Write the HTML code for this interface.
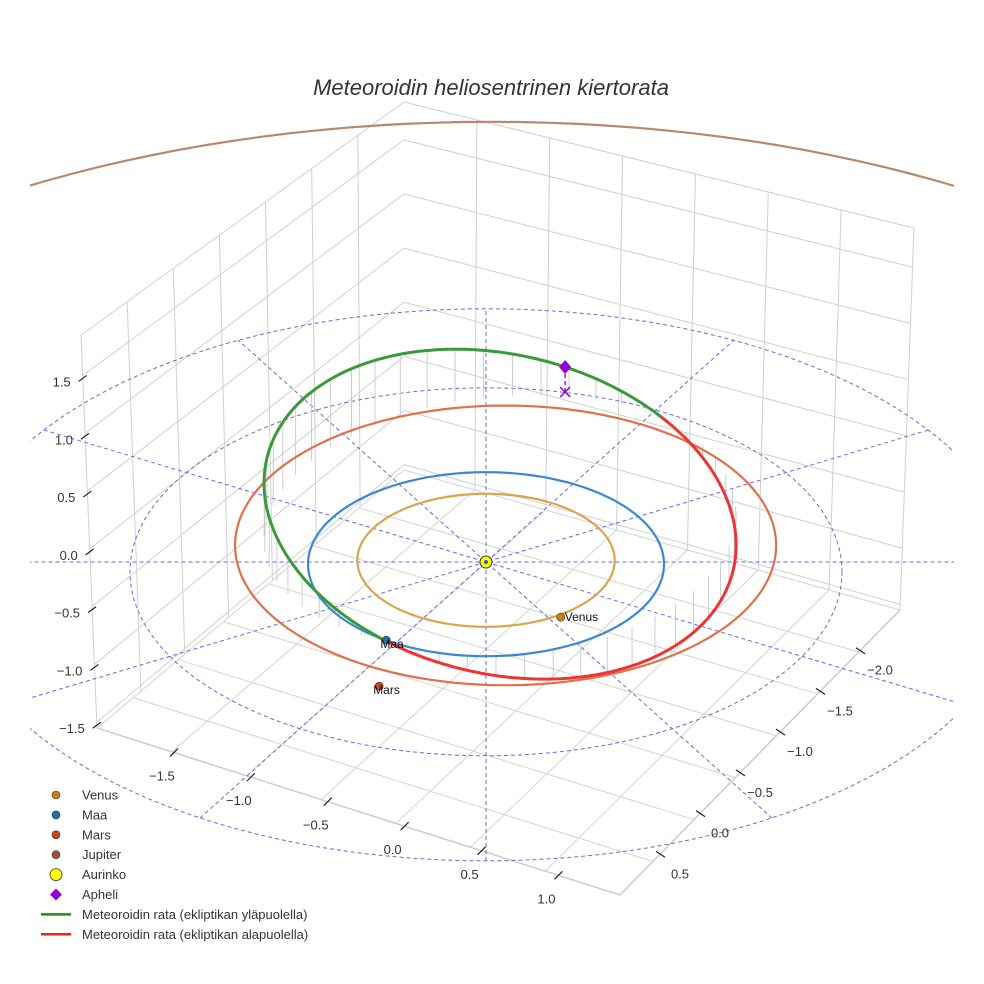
<!DOCTYPE html>
<html><head><meta charset="utf-8"><style>
html,body{margin:0;padding:0;background:#fff;width:984px;height:984px;overflow:hidden;}
svg{display:block;font-family:"Liberation Sans",sans-serif;}
</style></head><body>
<svg id="c" width="984" height="984" viewBox="0 0 984 984" xmlns="http://www.w3.org/2000/svg">
<defs><clipPath id="clip"><rect x="30" y="95" width="924" height="885"/></clipPath></defs>
<rect width="984" height="984" fill="#fff"/>
<text x="491" y="95" text-anchor="middle" font-size="22" font-style="italic" fill="#333">Meteoroidin heliosentrinen kiertorata</text>
<g id="grid"></g>
<g id="plot" clip-path="url(#clip)"></g>
<g id="labels"></g>
<g id="legend"></g>
</svg>
<script>
// ---- data ----
const planetNames = ["Venus","Maa","Mars","Jupiter"];
const planetOrbitR = [0.723, 1.0, 1.52, 5.2];
const planetOrbitOffX = [0.0, 0.0, 0.11, 0.03];
const planetOrbitOffY = [-0.03, 0.0, -0.24, -0.35];
const planetPosX = [0.42, -0.56, -0.6, null];
const planetPosY = [0.60, 0.85, 1.35, null];
const refRings = [1, 2, 3];
const refAnglesDeg = [0, 30, 60, 90, 120, 150];
// meteoroid orbit (ecliptic-projected parameters, AU)
const orbitCenter = [0.079, -0.52];
const orbitA = [1.326, 0.337];
const orbitB = [0.0, 1.761];
const orbitNodesDeg = [119, 313];
const orbitHeight = [0.75];
const aphelionT = [286];
const zTicks = [1.5, 1.0, 0.5, 0.0, -0.5, -1.0, -1.5];
const xTicks = [-1.5, -1.0, -0.5, 0.0, 0.5, 1.0];
const yTicks = [0.5, 0.0, -0.5, -1.0, -1.5, -2.0];

// ---- helpers ----
const NS = "http://www.w3.org/2000/svg";
function mk(tag, attrs, parent){const e=document.createElementNS(NS,tag);for(const k in attrs)e.setAttribute(k,attrs[k]);parent.appendChild(e);return e;}
const SX=178, SY=92, CX=486, CY=562;
function proj(x,y){return [CX+SX*x, CY+SY*y];}
function ringCY(r){return CY+2.7*r*r-0.5*r;}
function ringPath(r,ox,oy){
  const cx=CX+SX*(ox||0), cy=ringCY(r)+SY*(oy||0);
  let d="";for(let i=0;i<=200;i++){const t=i/200*2*Math.PI;const x=cx+SX*r*Math.cos(t), y=cy+SY*r*Math.sin(t);d+=(i?"L":"M")+x.toFixed(1)+" "+y.toFixed(1);}return d;}
function lerp(a,b,t){return [a[0]+(b[0]-a[0])*t,a[1]+(b[1]-a[1])*t];}
function bil(p00,p10,p01,p11,u,v){return lerp(lerp(p00,p10,u),lerp(p01,p11,u),v);}
const grid=document.getElementById('grid'), plot=document.getElementById('plot'), labels=document.getElementById('labels'), legend=document.getElementById('legend');

// ---- box ----
const BT=[404,102], BB=[404,470], FT=[81,335], FB=[97,728], RT=[914,228], RB=[900,610], FF=[620,895];
const zTop=1.85, zBot=-1.55;
function line(p,q,stroke,w,parent,name){const l=mk('line',{x1:p[0],y1:p[1],x2:q[0],y2:q[1],stroke:stroke,'stroke-width':w},parent);
  
  return l;}
for(let i=0;i<7;i++){const u=i/7;line(bil(FT,BT,FB,BB,u,0),bil(FT,BT,FB,BB,u,1),'#d0d0d0',1,grid,'left-wall-gridline');}
for(let i=1;i<=7;i++){const u=i/7;line(bil(BT,RT,BB,RB,u,0),bil(BT,RT,BB,RB,u,1),'#d0d0d0',1,grid,'right-wall-gridline');}
const zLevels=[zTop].concat(zTicks);
zLevels.forEach(z=>{const v=(zTop-z)/(zTop-zBot);
  line(bil(FT,BT,FB,BB,0,v),bil(FT,BT,FB,BB,1,v),'#d0d0d0',1,grid,'left-wall-z-gridline');
  line(bil(BT,RT,BB,RB,0,v),bil(BT,RT,BB,RB,1,v),'#d0d0d0',1,grid,'right-wall-z-gridline');});
const xMin=-2.0,xMax=1.4,yF=1.0,yR=-2.5;
for(let x=-2.0;x<=1.4;x+=0.5){const u=(x-xMin)/(xMax-xMin);
  line(lerp(RB,FF,u),lerp(BB,FB,u),'#d4d4d4',1,grid,'floor-gridline');}
for(let y=1.0;y>=-2.5;y-=0.5){const v=(yF-y)/(yF-yR);
  line(lerp(FB,FF,1-v),lerp(BB,RB,1-v),'#d4d4d4',1,grid,'floor-gridline');}
line(FB,FF,'#cccccc',1.5,grid,'floor-front-edge');
line(FF,RB,'#cccccc',1.5,grid,'floor-right-edge');

// ---- reference rings & radial lines ----
refRings.forEach(r=>{const p=mk('path',{d:ringPath(r,0,0),fill:'none',stroke:'#6a6ae0','stroke-width':1,'stroke-dasharray':'4 3'},plot);
  
  });
const outerR=refRings[refRings.length-1];
function rayToRing(dx,dy){ // from sun along screen direction until hits outer ring ellipse
  const cx=CX, cy=ringCY(outerR), rx=SX*outerR, ry=SY*outerR;
  let s=0; for(;s<2000;s+=0.5){const x=CX+dx*s, y=CY+dy*s; if(((x-cx)/rx)**2+((y-cy)/ry)**2>=1) break;}
  return [CX+dx*s, CY+dy*s];}
refAnglesDeg.forEach(a=>{const t=a*Math.PI/180;const dx=SX*Math.cos(t), dy=SY*Math.sin(t);const n=Math.hypot(dx,dy);
  const p1=rayToRing(dx/n,dy/n), p2=rayToRing(-dx/n,-dy/n);
  const l=mk('line',{x1:p1[0],y1:p1[1],x2:p2[0],y2:p2[1],stroke:'#6a6ae0','stroke-width':1,'stroke-dasharray':'4 3'},plot);
  
  });

// ---- meteoroid orbit ----
function orb(tdeg){const t=tdeg*Math.PI/180;return proj(orbitCenter[0]+orbitA[0]*Math.cos(t)+orbitB[0]*Math.sin(t), orbitCenter[1]+orbitA[1]*Math.cos(t)+orbitB[1]*Math.sin(t));}
const n0=orbitNodesDeg[0], n1=orbitNodesDeg[1];
function zOf(t){
  if(t>=n0&&t<=n1) return orbitHeight[0]*Math.sin(Math.PI*(t-n0)/(n1-n0));
  const tt=t<n0?t+360:t; return -orbitHeight[0]*0.6*Math.sin(Math.PI*(tt-n1)/(360-(n1-n0)));}
for(let t=0;t<360;t+=7){const p=orb(t), z=zOf(t), L=z*SY;
  const l=mk('line',{x1:p[0],y1:p[1],x2:p[0],y2:p[1]+L,stroke:'#c8c8c8','stroke-width':0.9},plot);
  
  }

const orbitColors=['#d9a54c','#3a88d4','#e0704c','#b9876a'];
planetNames.forEach((nm,i)=>{const p=mk('path',{d:ringPath(planetOrbitR[i],planetOrbitOffX[i],planetOrbitOffY[i]),fill:'none',stroke:orbitColors[i],'stroke-width':2.2},plot);
  
  });

function arc(a,b){let d="";for(let t=a,i=0;t<=b+0.01;t+=1,i++){const p=orb(t);d+=(i?"L":"M")+p[0].toFixed(1)+" "+p[1].toFixed(1);}return d;}
const g1=mk('path',{d:arc(n0,n1),fill:'none',stroke:'#3a9a3a','stroke-width':3},plot);


const r1=mk('path',{d:arc(n1,n0+360),fill:'none',stroke:'#ee3333','stroke-width':3},plot);



const ap=orb(aphelionT[0]);
const apl=mk('line',{x1:ap[0],y1:ap[1],x2:ap[0],y2:ap[1]+25,stroke:'#9400d3','stroke-width':1.3,'stroke-dasharray':'4 3'},plot);


const apx=mk('path',{d:`M${ap[0]-5} ${ap[1]+20}L${ap[0]+5} ${ap[1]+30}M${ap[0]+5} ${ap[1]+20}L${ap[0]-5} ${ap[1]+30}`,stroke:'#9400d3','stroke-width':1.5,fill:'none'},plot);


const apd=mk('path',{d:`M${ap[0]} ${ap[1]-7}L${ap[0]+6} ${ap[1]}L${ap[0]} ${ap[1]+7}L${ap[0]-6} ${ap[1]}Z`,fill:'#9400d3'},plot);



const sun=mk('circle',{cx:CX,cy:CY,r:6,fill:'#ffff00',stroke:'#333','stroke-width':1},plot);


const sd=mk('circle',{cx:CX,cy:CY,r:2,fill:'#4455aa'},plot);



const planetColors=['#c7800f','#1f6fae','#c8461a','#a0522d'];
planetNames.forEach((nm,i)=>{if(planetPosX[i]===null)return;const p=proj(planetPosX[i],planetPosY[i]);
  const c=mk('circle',{cx:p[0],cy:p[1],r:4,fill:planetColors[i],stroke:'#333','stroke-width':0.6},plot);
  
  
  const t=mk('text',{x:p[0]+(nm==='Venus'?4:-6),y:p[1]+(nm==='Venus'?4:8),'font-size':12,fill:'#111'},plot);
  t.textContent=nm;
  
  });

// ---- axis ticks ----
zTicks.forEach(z=>{const v=(zTop-z)/(zTop-zBot);const e=bil(FT,BT,FB,BB,0,v);
  line([e[0]-4,e[1]+6],[e[0]+4,e[1]],'#222',1.2,labels,'z-tick');
  const t=mk('text',{x:e[0]-12,y:e[1]+11,'font-size':13,'text-anchor':'end',fill:'#333'},labels);
  t.textContent=z.toFixed(1).replace('-','\u2212');
  
  });
xTicks.forEach(x=>{const u=(x-xMin)/(xMax-xMin);const e=lerp(FB,FF,u);
  line([e[0]-4,e[1]+4],[e[0]+4,e[1]-4],'#222',1.2,labels,'x-tick');
  const t=mk('text',{x:e[0]-12,y:e[1]+28,'font-size':13,'text-anchor':'middle',fill:'#333'},labels);
  t.textContent=x.toFixed(1).replace('-','\u2212');
  
  });
yTicks.forEach(y=>{const v=(yF-y)/(yF-yR);const e=lerp(FF,RB,v);
  line([e[0]-4,e[1]-3],[e[0]+5,e[1]+3],'#222',1.2,labels,'y-tick');
  const t=mk('text',{x:e[0]+20,y:e[1]+24,'font-size':13,'text-anchor':'middle',fill:'#333'},labels);
  t.textContent=y.toFixed(1).replace('-','\u2212');
  
  });

// ---- legend ----
const legItems=[['Venus','dot','#c7800f'],['Maa','dot','#1f6fae'],['Mars','dot','#c8461a'],['Jupiter','dot','#a0522d'],['Aurinko','sun','#ffff00'],['Apheli','diamond','#9400d3'],['Meteoroidin rata (ekliptikan yläpuolella)','line','#228b22'],['Meteoroidin rata (ekliptikan alapuolella)','line','#ee2222']];
legItems.forEach((it,i)=>{const y=795+i*19.9;const g=mk('g',{},legend);
  
  
  if(it[1]==='dot')mk('circle',{cx:56,cy:y,r:4,fill:it[2],stroke:'#333','stroke-width':0.6},g);
  else if(it[1]==='sun')mk('circle',{cx:56,cy:y,r:6,fill:it[2],stroke:'#333','stroke-width':0.8},g);
  else if(it[1]==='diamond')mk('path',{d:`M56 ${y-6}L62 ${y}L56 ${y+6}L50 ${y}Z`,fill:it[2]},g);
  else mk('line',{x1:41,y1:y,x2:71,y2:y,stroke:it[2],'stroke-width':2.5},g);
  const t=mk('text',{x:82,y:y+4.5,'font-size':13,fill:'#333'},g);t.textContent=it[0];});
</script>
</body></html>
